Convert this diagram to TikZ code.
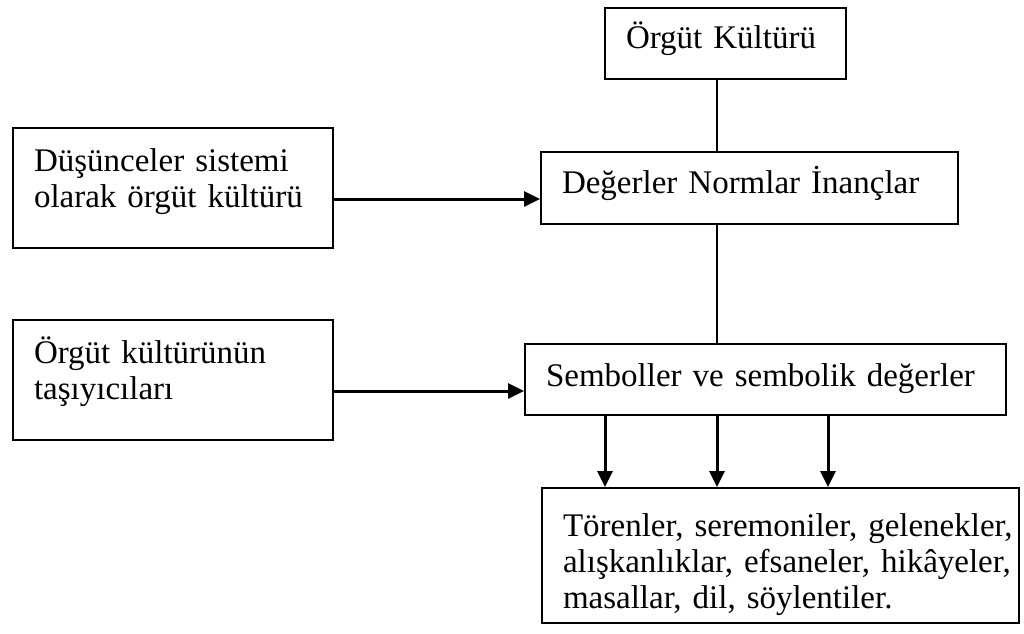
\documentclass[tikz,border=0pt]{standalone}
\usepackage{fontspec}
\setmainfont{Liberation Serif}
\usetikzlibrary{arrows.meta}

\begin{document}
\begin{tikzpicture}[x=0.5pt, y=-0.5pt,
  kutu/.style={draw, line width=1pt, rectangle, anchor=north west, align=left,
    inner xsep=10.5pt, inner ysep=0pt, font=\fontsize{16.5}{18}\selectfont},
  ok/.style={line width=1.5pt, -{Triangle[length=8pt, width=7.5pt]}},
  cizgi/.style={line width=1pt}]

\useasboundingbox (0,0) rectangle (1024,633);

% sag sutun
\node[kutu, text width=99.5pt, text height=20pt, text depth=15.5pt] (orgut) at (604,7) {Örgüt Kültürü};
\node[kutu, text width=187.5pt, text height=20.5pt, text depth=15.5pt] (deger) at (540,151) {Değerler Normlar İnançlar};
\node[kutu, text width=219.5pt, text height=21pt, text depth=14.5pt] (sembol) at (524,343) {Semboller ve sembolik değerler};
\node[kutu, text width=217.5pt, text height=24pt, text depth=43.5pt] (toren) at (541,487)
  {\mbox{Törenler, seremoniler, gelenekler,}\\ \mbox{alışkanlıklar, efsaneler, hikâyeler,}\\ masallar, dil, söylentiler.};

% sol sutun
\node[kutu, text width=139pt, text height=21.5pt, text depth=38.5pt] (dusunce) at (12,127) {Düşünceler sistemi\\ olarak örgüt kültürü};
\node[kutu, text width=139pt, text height=21.5pt, text depth=38.5pt] (tasiyici) at (12,319) {Örgüt kültürünün\\ taşıyıcıları};

\coordinate (omurga) at (717,0);
\draw[cizgi] (omurga |- orgut.south) -- (omurga |- deger.north);
\draw[cizgi] (omurga |- deger.south) -- (omurga |- sembol.north);

\draw[ok] (dusunce.east |- 0,199) -- (deger.west |- 0,199);
\draw[ok] (tasiyici.east |- 0,391) -- (sembol.west |- 0,391);

\foreach \x in {605,717,828}
  \draw[ok] (\x,0 |- sembol.south) -- (\x,0 |- toren.north);

\end{tikzpicture}
\end{document}
